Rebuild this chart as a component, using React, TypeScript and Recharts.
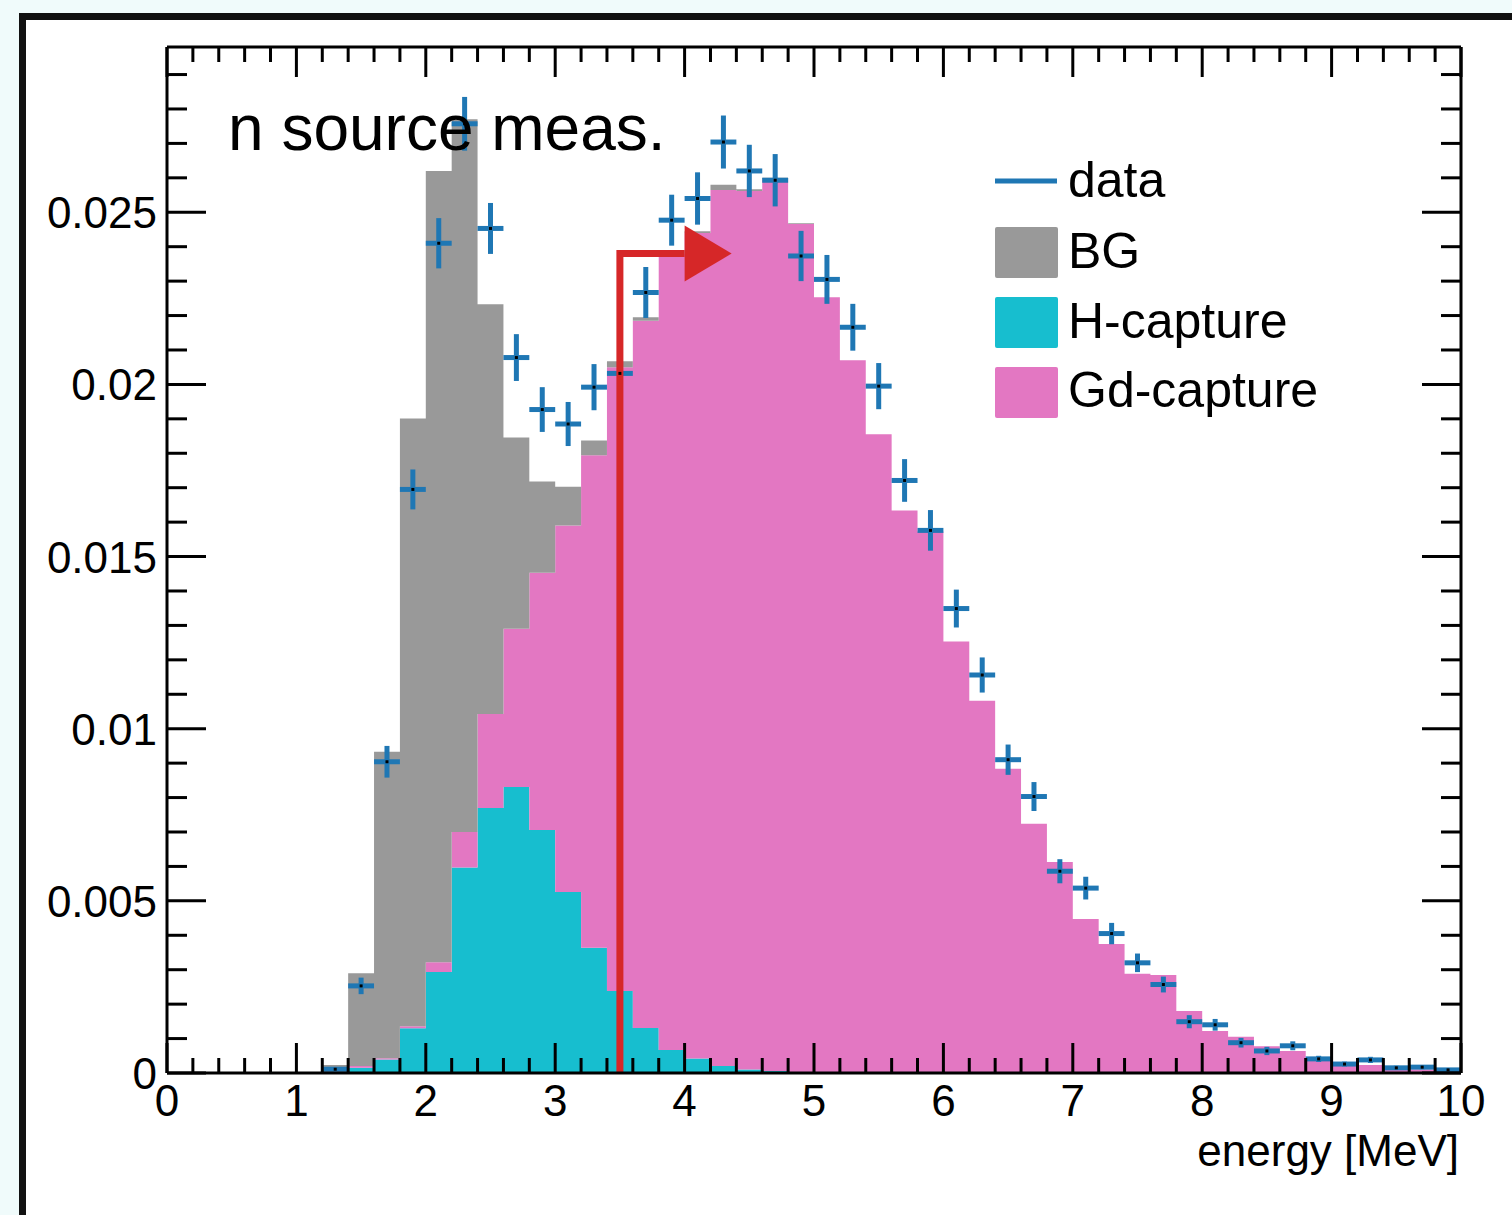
import React from "react";
import { ComposedChart, Area, Scatter, Line, XAxis, YAxis, ErrorBar } from "recharts";

const FONT = "'Liberation Sans', Arial, Helvetica, sans-serif";
const binWidth = 0.2;

// stacked histogram contents, one value per 0.2 MeV bin (0 .. 10 MeV)
const hCapture = [
  0, 0, 0, 0, 0, 0, 0.00003, 0.00015, 0.00039, 0.0013,
  0.00293, 0.00597, 0.0077, 0.00831, 0.00706, 0.00526, 0.00364, 0.00238, 0.00131, 0.00067,
  0.00042, 0.0002, 0.0001, 0.00006, 0.00003, 0.00002, 0, 0, 0, 0,
  0, 0, 0, 0, 0, 0, 0, 0, 0, 0,
  0, 0, 0, 0, 0, 0, 0, 0, 0, 0,
];
const gdCapture = [
  0, 0, 0, 0, 0, 0, 0, 0.00005, 0.00004, 0.00006,
  0.00029, 0.00103, 0.00273, 0.00459, 0.00747, 0.01064, 0.0143, 0.01812, 0.02054, 0.02313,
  0.02398, 0.02545, 0.02552, 0.02589, 0.02463, 0.02251, 0.0207, 0.01855, 0.01634, 0.01573,
  0.01253, 0.01081, 0.00884, 0.00724, 0.00613, 0.00447, 0.00375, 0.00288, 0.00285, 0.0018,
  0.00122, 0.00105, 0.00078, 0.00064, 0.0004, 0.0002, 0.00023, 0.0001, 0.0001, 0.00005,
];
const bg = [
  0, 0, 0, 0, 0, 0, 0.0002, 0.0027, 0.0089, 0.01765,
  0.02298, 0.0207, 0.0119, 0.00556, 0.00265, 0.00113, 0.00043, 0.00017, 0.0001, 0.0001,
  0.00005, 0.00015, 0.00005, 0.00005, 0.00002, 0, 0, 0, 0, 0,
  0, 0, 0, 0, 0, 0, 0, 0, 0, 0,
  0, 0, 0, 0, 0, 0, 0, 0, 0, 0,
];

// measured data per bin (null = empty bin) and its error
const dataValues = [
  null, null, null, null, null, null, 0.00011, 0.00253, 0.00904, 0.01695,
  0.0241, 0.02757, 0.02453, 0.02078, 0.01927, 0.01885, 0.01992, 0.02032, 0.02267, 0.02477,
  0.0254, 0.02704, 0.0262, 0.02593, 0.02373, 0.02305, 0.02166, 0.01995, 0.01721, 0.01576,
  0.01349, 0.01156, 0.0091, 0.00803, 0.00586, 0.00537, 0.00405, 0.0032, 0.00257, 0.00149,
  0.0014, 0.00088, 0.00064, 0.00079, 0.00041, 0.00026, 0.00038, 0.00015, 0.00017, 0.00009,
];
const dataErrors = [
  0, 0, 0, 0, 0, 0, 0.00005, 0.00024, 0.00046, 0.00058,
  0.00073, 0.00078, 0.00074, 0.00068, 0.00065, 0.00064, 0.00067, 0.00066, 0.00074, 0.00074,
  0.00076, 0.00077, 0.00076, 0.00076, 0.00073, 0.00071, 0.00068, 0.00067, 0.00062, 0.00059,
  0.00055, 0.00051, 0.00044, 0.00042, 0.00035, 0.00033, 0.00031, 0.00027, 0.00023, 0.00019,
  0.00017, 0.00014, 0.00012, 0.00013, 0.00009, 0.00007, 0.00009, 0.00006, 0.00006, 0.00004,
];

// energy cut marker
const cutEnergy = 3.5;
const cutLevel = 0.0238;
const arrowEnd = 4.0;

const xTickLabels = ["0", "1", "2", "3", "4", "5", "6", "7", "8", "9", "10"];
const yTickLabels = ["0", "0.005", "0.01", "0.015", "0.02", "0.025"];
const xMajorStep = 1;
const yMajorStep = 0.005;
const yMax = 0.0298;

// minor divisions (5 per major)
const xTicks = Array.from({ length: 51 }, (_, i) => +(i * 0.2).toFixed(1));
const yTicks = Array.from({ length: 30 }, (_, i) => +(i * 0.001).toFixed(3));

// rows at bin edges for step areas (last edge repeats last bin)
const histRows = Array.from({ length: hCapture.length + 1 }, (_, i) => {
  const j = Math.min(i, hCapture.length - 1);
  return { x: +(i * binWidth).toFixed(1), h: hCapture[j], gd: gdCapture[j], bg: bg[j] };
});

const points = dataValues
  .map((v, i) =>
    v == null ? null : { x: (i + 0.5) * binWidth, y: v, ex: binWidth / 2, ey: dataErrors[i] }
  )
  .filter(Boolean);

const cutPath = [
  { x: cutEnergy, y: 0 },
  { x: cutEnergy, y: cutLevel },
  { x: arrowEnd, y: cutLevel },
];
const arrowHead = [{ x: arrowEnd, y: cutLevel }];

const BLUE = "#1f77b4";
const GRAY = "#999999";
const CYAN = "#17becf";
const PINK = "#e377c2";
const RED = "#d62728";

const frame = { stroke: "#000", strokeWidth: 3 };

const majorIndex = (v: number, step: number) => {
  const k = v / step;
  return Math.abs(k - Math.round(k)) < 1e-6 ? Math.round(k) : -1;
};

// ROOT style ticks: drawn inside the frame, labels only on bottom / left
function makeTick(side: "bottom" | "top" | "left" | "right") {
  return (p: any) => {
    const v = p.payload.value;
    const horizontal = side === "bottom" || side === "top";
    const k = majorIndex(v, horizontal ? xMajorStep : yMajorStep);
    const major = k >= 0;
    const len = horizontal ? (major ? 30 : 15) : major ? 39 : 20;
    const { x, y } = p;
    let ln;
    if (side === "bottom") ln = <line x1={x} x2={x} y1={y} y2={y - len} {...frame} />;
    else if (side === "top") ln = <line x1={x} x2={x} y1={y} y2={y + len} {...frame} />;
    else if (side === "left") ln = <line x1={x} x2={x + len} y1={y} y2={y} {...frame} />;
    else ln = <line x1={x} x2={x - len} y1={y} y2={y} {...frame} />;
    let label = null;
    if (major && side === "bottom")
      label = (
        <text x={x} y={y + 43} textAnchor="middle" fontSize={44} fontFamily={FONT} fill="#000">
          {xTickLabels[k]}
        </text>
      );
    if (major && side === "left")
      label = (
        <text x={x - 10} y={y + 16} textAnchor="end" fontSize={44} fontFamily={FONT} fill="#000">
          {yTickLabels[k]}
        </text>
      );
    return (
      <g>
        {ln}
        {label}
      </g>
    );
  };
}

const DataDot = (p: any) => (
  <rect x={p.cx - 1.5} y={p.cy - 1.5} width={3} height={3} fill="#000" />
);
const ArrowHead = (p: any) => (
  <polygon
    points={`${p.cx},${p.cy - 28} ${p.cx},${p.cy + 28} ${p.cx + 47},${p.cy}`}
    fill={RED}
  />
);

const legendRows = [
  { label: "BG", color: GRAY },
  { label: "H-capture", color: CYAN },
  { label: "Gd-capture", color: PINK },
];

export default function App() {
  return (
    <div style={{ position: "absolute", left: 0, top: 0, width: 1512, height: 1215, background: "#f0fbfb", overflow: "hidden" }}>
      <div
        style={{
          position: "absolute",
          left: 19,
          top: 13,
          width: 1500,
          height: 1210,
          background: "#fff",
          borderLeft: "7px solid #111",
          borderTop: "7px solid #111",
        }}
      />
      <div style={{ position: "absolute", left: 0, top: 0 }}>
        <ComposedChart
          width={1512}
          height={1215}
          data={histRows}
          margin={{ top: 46, right: 50, bottom: 141, left: 166 }}
        >
          <Area xAxisId="x" yAxisId="y" dataKey="h" stackId="s" type="stepAfter" fill={CYAN} fillOpacity={1} stroke="none" isAnimationActive={false} />
          <Area xAxisId="x" yAxisId="y" dataKey="gd" stackId="s" type="stepAfter" fill={PINK} fillOpacity={1} stroke="none" isAnimationActive={false} />
          <Area xAxisId="x" yAxisId="y" dataKey="bg" stackId="s" type="stepAfter" fill={GRAY} fillOpacity={1} stroke="none" isAnimationActive={false} />

          <Scatter xAxisId="x" yAxisId="y" data={points} dataKey="y" shape={DataDot} isAnimationActive={false}>
            <ErrorBar dataKey="ex" direction="x" width={0} stroke={BLUE} strokeWidth={5} isAnimationActive={false} />
            <ErrorBar dataKey="ey" direction="y" width={0} stroke={BLUE} strokeWidth={5} isAnimationActive={false} />
          </Scatter>

          <Line xAxisId="x" yAxisId="y" data={cutPath} dataKey="y" type="linear" stroke={RED} strokeWidth={7} dot={false} isAnimationActive={false} />
          <Scatter xAxisId="x" yAxisId="y" data={arrowHead} dataKey="y" shape={ArrowHead} isAnimationActive={false} />

          <XAxis
            xAxisId="x"
            dataKey="x"
            type="number"
            domain={[0, 10]}
            allowDataOverflow
            ticks={xTicks}
            interval={0}
            height={1}
            tickSize={0}
            tickMargin={0}
            axisLine={frame}
            tickLine={false}
            tick={makeTick("bottom")}
          />
          <XAxis
            xAxisId="xt"
            dataKey="x"
            orientation="top"
            type="number"
            domain={[0, 10]}
            allowDataOverflow
            ticks={xTicks}
            interval={0}
            height={1}
            tickSize={0}
            tickMargin={0}
            axisLine={frame}
            tickLine={false}
            tick={makeTick("top")}
          />
          <YAxis
            yAxisId="y"
            type="number"
            domain={[0, yMax]}
            allowDataOverflow
            ticks={yTicks}
            interval={0}
            width={1}
            tickSize={0}
            tickMargin={0}
            axisLine={frame}
            tickLine={false}
            tick={makeTick("left")}
          />
          <YAxis yAxisId="yr" orientation="right" type="number" domain={[0, yMax]} allowDataOverflow ticks={yTicks} interval={0} width={1} tickSize={0} tickMargin={0} axisLine={frame} tickLine={false} tick={makeTick("right")} />
        </ComposedChart>
      </div>

      <svg width={1512} height={1215} style={{ position: "absolute", left: 0, top: 0, pointerEvents: "none" }} fontFamily={FONT}>
        <text x={228} y={150} fontSize={64} fill="#000">n source meas.</text>

        <line x1={995} x2={1057} y1={181} y2={181} stroke={BLUE} strokeWidth={5} />
        <text x={1068} y={197} fontSize={50} fill="#000">data</text>
        {legendRows.map((r, i) => (
          <g key={r.label}>
            <rect x={995} y={227 + i * 70} width={63} height={51} rx={2} fill={r.color} />
            <text x={1068} y={268 + i * 69.5} fontSize={50} fill="#000">{r.label}</text>
          </g>
        ))}

        <text x={1459} y={1166} fontSize={44} textAnchor="end" fill="#000">energy [MeV]</text>
      </svg>
    </div>
  );
}
